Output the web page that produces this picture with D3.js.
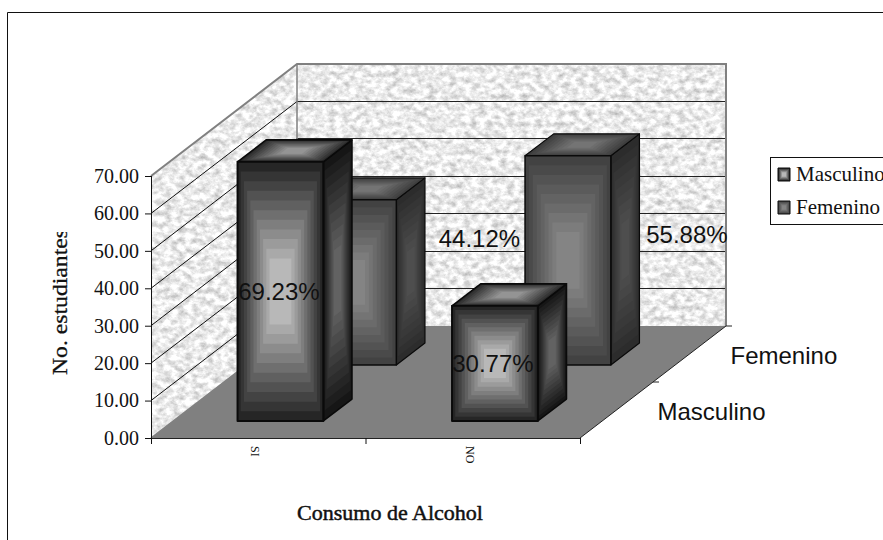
<!DOCTYPE html>
<html>
<head>
<meta charset="utf-8">
<script src="https://cdn.jsdelivr.net/npm/d3@7/dist/d3.min.js"></script>
<style>
html,body{margin:0;padding:0;background:#fff;overflow:hidden}
svg{display:block}
.serif{font-family:"Liberation Serif",serif;fill:#111}
.sans{font-family:"Liberation Sans",Arial,sans-serif;fill:#111}
</style>
</head>
<body>
<svg id="chart" width="883" height="540"></svg>
<script>
// Chart content
const categories = ["SI", "NO"];
const seriesNames = ["Masculino", "Femenino"];
const masculino = [69.23, 30.77];
const femenino = [44.12, 55.88];
const yTicks = [0, 10, 20, 30, 40, 50, 60, 70];

const W = 883, H = 540;
const svg = d3.select("#chart");
const defs = svg.append("defs");

// Oblique projection of the 3-D box: depth runs from 0 (front) to 1 (back)
const depthDX = 146, depthDY = 112;
const x = d3.scaleBand().domain(categories).range([151, 580]);
const y = d3.scaleLinear().domain([0, 70]).range([438, 176]);
const depth = d3.scaleBand().domain(seriesNames).range([0, 1]);
const project = (px, v, d) => [px + d * depthDX, y(v) - d * depthDY];
const poly = pts => pts.map(p => p.join(",")).join(" ");

// Speckled paper texture for the walls
const tex = defs.append("filter").attr("id", "speckle")
  .attr("x", 0).attr("y", 0).attr("width", 1).attr("height", 1)
  .attr("color-interpolation-filters", "sRGB");
tex.append("feTurbulence").attr("type", "fractalNoise")
  .attr("baseFrequency", "0.14 0.18").attr("numOctaves", 4).attr("seed", 7).attr("result", "n");
tex.append("feColorMatrix").attr("in", "n").attr("type", "matrix")
  .attr("values", "0.5 0 0 0 0.67  0.5 0 0 0 0.67  0.5 0 0 0 0.67  0 0 0 0 1").attr("result", "g");
tex.append("feComposite").attr("in", "g").attr("in2", "SourceAlpha").attr("operator", "in");

// Frame of the chart area, open on the right and at the bottom
svg.append("path").attr("d", d3.line()([[7.5, H], [7.5, 12.5], [W, 12.5]]))
  .attr("fill", "none").attr("stroke", "#111").attr("stroke-width", 1);

// Walls and floor
const frontL = x.range()[0], frontR = x.range()[1];
const wallLeft = [project(frontL, 0, 0), project(frontL, 70, 0), project(frontL, 70, 1), project(frontL, 0, 1)];
const wallBack = [project(frontL, 0, 1), project(frontL, 70, 1), project(frontR, 70, 1), project(frontR, 0, 1)];
const floor = [project(frontL, 0, 0), project(frontR, 0, 0), project(frontR, 0, 1), project(frontL, 0, 1)];
const walls = svg.append("g");
[wallLeft, wallBack].forEach(w => walls.append("polygon").attr("points", poly(w))
  .attr("fill", "#eee").attr("filter", "url(#speckle)"));
walls.append("polygon").attr("points", poly(floor)).attr("fill", "#808080");

// Gridlines wrapping around the left and back walls; the back-wall run is pixel-snapped
const grid = svg.append("g").attr("fill", "none");
yTicks.filter(t => t > 0 && t < 70).forEach(t => {
  const a = project(frontL, t, 0), b = project(frontL, t, 1), c = project(frontR, t, 1);
  const snapped = Math.floor(b[1]) + 0.5;
  grid.append("path").attr("d", d3.line()([a, [b[0], snapped]]))
    .attr("stroke", "#111").attr("stroke-width", 1);
  grid.append("path").attr("d", d3.line()([[b[0], snapped], [c[0], snapped]]))
    .attr("stroke", "#222").attr("stroke-width", 1);
});
// Wall outlines
grid.append("path")
  .attr("d", d3.line()([project(frontL, 0, 0), project(frontL, 0, 1), project(frontL, 70, 1)]))
  .attr("stroke", "#808080").attr("stroke-width", 1.5);
grid.append("path")
  .attr("d", d3.line()([project(frontL, 70, 0), project(frontL, 70, 1), project(frontR, 70, 1), project(frontR, 0, 1)]))
  .attr("stroke", "#808080").attr("stroke-width", 2);

// A face shaded with stepped concentric bands; the lightest tone fills a plateau round the centre
function bandedFace(g, corners, edge, centre, steps, stroke, sw) {
  const cx = d3.mean(corners, p => p[0]), cy = d3.mean(corners, p => p[1]);
  const col = d3.interpolateRgb(edge, centre);
  d3.range(steps).forEach(i => {
    const t = i / steps;
    g.append("polygon")
      .attr("points", poly(corners.map(p => [p[0] + (cx - p[0]) * t * 0.82, p[1] + (cy - p[1]) * t * 0.82])))
      .attr("fill", col(i / (steps - 1)));
  });
  g.append("polygon").attr("points", poly(corners))
    .attr("fill", "none").attr("stroke", stroke).attr("stroke-width", sw).attr("stroke-linejoin", "round");
}

const shades = {
  Masculino: { front: ["#262626", "#b8b8b8"], side: ["#161616", "#626262"], top: ["#2c2c2c", "#949494"], steps: 11, sw: 2 },
  Femenino:  { front: ["#424242", "#848484"], side: ["#2c2c2c", "#4e4e4e"], top: ["#3e3e3e", "#747474"], steps: 9, sw: 1.5 }
};

const barW = x.bandwidth() * 0.4;
const barD = depth.bandwidth() * 0.392;

function drawBar(g, name, cat, value) {
  const s = shades[name];
  const x0 = x(cat) + (x.bandwidth() - barW) / 2, x1 = x0 + barW;
  const d0 = depth(name) + (depth.bandwidth() - barD) / 2, d1 = d0 + barD;
  bandedFace(g, [project(x1, 0, d0), project(x1, value, d0), project(x1, value, d1), project(x1, 0, d1)],
    s.side[0], s.side[1], s.steps, "#0a0a0a", s.sw * 0.8);
  bandedFace(g, [project(x0, value, d0), project(x0, value, d1), project(x1, value, d1), project(x1, value, d0)],
    s.top[0], s.top[1], s.steps, "#0a0a0a", s.sw * 0.8);
  bandedFace(g, [project(x0, 0, d0), project(x0, value, d0), project(x1, value, d0), project(x1, 0, d0)],
    s.front[0], s.front[1], s.steps, "#0a0a0a", s.sw);
}

// Back row first, so the front row overlaps it
const bars = svg.append("g");
categories.forEach((c, i) => drawBar(bars.append("g"), "Femenino", c, femenino[i]));
categories.forEach((c, i) => drawBar(bars.append("g"), "Masculino", c, masculino[i]));

// Value axis
const yAxis = svg.append("g").attr("transform", `translate(${frontL},0)`)
  .call(d3.axisLeft(y).tickValues(yTicks).tickFormat(d3.format(".2f")).tickSize(6).tickPadding(6));
yAxis.select(".domain").attr("stroke", "#111").attr("d", `M0.5,${y(70)}V${y(0)}`);
yAxis.selectAll("line").attr("stroke", "#111");
yAxis.selectAll("text").attr("class", "serif").style("font-size", "20px").attr("fill", null);

// Category axis: ticks on band edges, labels on band centres
const edgeScale = d3.scaleLinear().domain([0, categories.length]).range([frontL, frontR]);
const xAxis = svg.append("g").attr("transform", `translate(0,${y(0)})`)
  .call(d3.axisBottom(edgeScale).tickValues(d3.range(categories.length + 1)).tickFormat("").tickSize(6));
xAxis.select(".domain").attr("stroke", "#222").attr("d", `M${frontL},0.5H${frontR}`);
xAxis.selectAll("line").attr("stroke", "#111");
svg.append("g").selectAll("text").data(categories).join("text")
  .attr("class", "serif").style("font-size", "12px")
  .attr("text-anchor", "start")
  .attr("transform", c => `translate(${x(c) + x.bandwidth() / 2 - 7},${y(0) + 8}) rotate(90)`)
  .text(c => c);

// Depth axis along the right edge of the floor
svg.append("path").attr("d", d3.line()([project(frontR, 0, 0), project(frontR, 0, 1)]))
  .attr("stroke", "#222").attr("fill", "none");
[0.5, 1].forEach(d => {
  const p = project(frontR, 0, d);
  svg.append("line").attr("x1", p[0]).attr("y1", p[1]).attr("x2", p[0] + 6).attr("y2", p[1])
    .attr("stroke", "#222");
});
svg.append("g").selectAll("text").data(seriesNames).join("text")
  .attr("class", "sans").style("font-size", "24px")
  .attr("x", n => project(frontR, 0, depth(n) + depth.bandwidth() / 2)[0] + 41)
  .attr("y", n => project(frontR, 0, depth(n) + depth.bandwidth() / 2)[1] + 9.5)
  .text(n => n);

// Value labels: the front row sits on its bars, the back row was moved beside them
const labelShift = { Masculino: [[-1.5, 9], [-2, 9]], Femenino: [[126, -35], [119, -17]] };
const labelLayer = svg.append("g");
seriesNames.forEach((name, si) => {
  const vals = si === 0 ? masculino : femenino;
  categories.forEach((c, i) => {
    const d0 = depth(name) + (depth.bandwidth() - barD) / 2;
    const cx = x(c) + x.bandwidth() / 2 + d0 * depthDX;
    const cy = (y(0) + y(vals[i])) / 2 - d0 * depthDY;
    labelLayer.append("text").attr("class", "sans").style("font-size", "24px")
      .attr("text-anchor", "middle")
      .attr("x", cx + labelShift[name][i][0])
      .attr("y", cy + labelShift[name][i][1])
      .text(d3.format(".2f")(vals[i]) + "%");
  });
});

// Axis titles; the value title is clipped by its narrow text box
defs.append("clipPath").attr("id", "ytitle").append("rect")
  .attr("x", 40).attr("y", 232).attr("width", 40).attr("height", 160);
svg.append("g").attr("clip-path", "url(#ytitle)").append("text")
  .attr("class", "serif").style("font-size", "21px")
  .style("stroke", "#111").style("stroke-width", 0.3)
  .attr("transform", "translate(67,375) rotate(-90)")
  .attr("textLength", 146).attr("lengthAdjust", "spacingAndGlyphs")
  .text("No. estudiantes");
svg.append("text").attr("class", "serif").style("font-size", "21px")
  .style("stroke", "#111").style("stroke-width", 0.45)
  .attr("x", 297).attr("y", 520).attr("textLength", 186).attr("lengthAdjust", "spacingAndGlyphs")
  .text("Consumo de Alcohol");

// Legend, running off the right edge
const legend = svg.append("g");
legend.append("rect").attr("x", 770.5).attr("y", 157.5).attr("width", 130).attr("height", 67)
  .attr("fill", "#fff").attr("stroke", "#111");
seriesNames.forEach((n, i) => {
  const top = 168 + i * 33, s = shades[n];
  bandedFace(legend.append("g"), [[778, top], [778, top + 13], [790, top + 13], [790, top]],
    s.front[0], s.front[1], 5, "#0a0a0a", 1);
  legend.append("text").attr("class", "serif").style("font-size", "21px")
    .attr("x", 796).attr("y", top + 13).text(n);
});
</script>
</body>
</html>
